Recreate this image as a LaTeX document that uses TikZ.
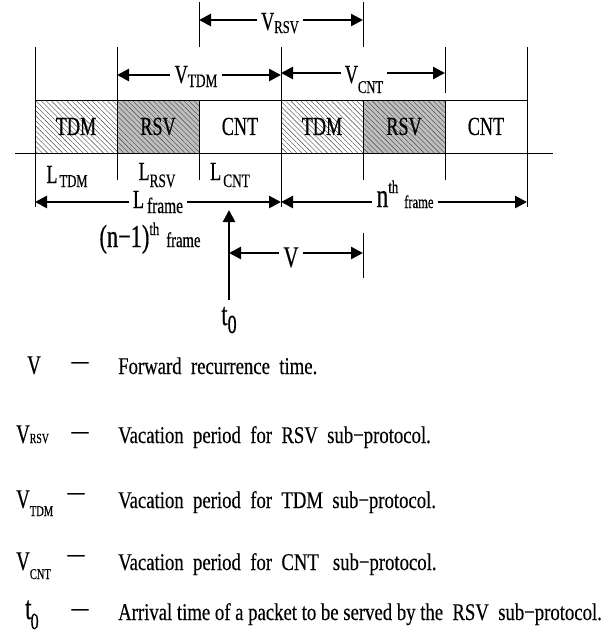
\documentclass[tikz,border=0pt]{standalone}
\usepackage{fontspec}
\setmainfont{Liberation Serif}
\newfontfamily\dgf{Liberation Serif}[FakeStretch=0.7,FakeBold=0.5]
\newfontfamily\lgf{Liberation Serif}[FakeStretch=0.78,FakeBold=0.3]
\usetikzlibrary{arrows.meta,patterns.meta}
\newcommand{\fs}[1]{\fontsize{#1}{#1}\selectfont}
\tikzset{
  thinln/.style={line width=0.8pt},
  dimarr/.style={line width=2.6pt,-{Triangle[length=12pt,width=12pt]}},
  lbl/.style={inner xsep=4pt,inner ysep=1pt,font=\dgf\fs{26},anchor=base},
  slot/.style={draw,thinln,minimum width=82pt,minimum height=53pt,inner sep=0pt,font=\dgf\fs{26}},
  hatch/.style={pattern={Lines[angle=-45,distance=3.6pt,line width=0.4pt]},pattern color=black!75},
  grayhatch/.style={preaction={fill=black!25},hatch},
  legsym/.style={inner sep=0pt,font=\dgf\fs{27},anchor=base west},
  legtxt/.style={inner sep=0pt,font=\lgf\fs{24},anchor=base west},
  legdash/.style={inner sep=0pt,font=\lgf\fs{22}},
}
\begin{document}
\begin{tikzpicture}[x=1pt,y=-1pt]
\useasboundingbox (0,0) rectangle (613,635);
% frame slots
\node[slot,hatch]     (s1) at (76,126.5)  {TDM};
\node[slot,grayhatch] (s2) at (158,126.5) {RSV};
\node[slot]           (s3) at (240,126.5) {CNT};
\node[slot,hatch]     (s4) at (322,126.5) {TDM};
\node[slot,grayhatch] (s5) at (404,126.5) {RSV};
\node[slot]           (s6) at (486,126.5) {CNT};
% time axis
\coordinate (axL) at (15,153); \coordinate (axR) at (553,153);
\draw[thinln] (axL) -- (axR);
% ticks above
\coordinate (a35t) at (35,47);   \coordinate (a35b) at (35,100);
\coordinate (a117t) at (117,47); \coordinate (a117b) at (117,100);
\coordinate (a199t) at (199,2);  \coordinate (a199b) at (199,47);
\coordinate (a281t) at (281,47); \coordinate (a281b) at (281,100);
\coordinate (a363t) at (363,2);  \coordinate (a363b) at (363,47);
\coordinate (a445t) at (445,47); \coordinate (a445b) at (445,93);
\coordinate (a527t) at (527,47); \coordinate (a527b) at (527,100);
\foreach \n in {35,117,199,281,363,445,527} \draw[thinln] (a\n t) -- (a\n b);
% ticks below
\coordinate (b35t) at (35,153);   \coordinate (b35b) at (35,207);
\coordinate (b117t) at (117,153); \coordinate (b117b) at (117,180);
\coordinate (b199t) at (199,153); \coordinate (b199b) at (199,180);
\coordinate (b281t) at (281,153); \coordinate (b281b) at (281,207);
\coordinate (b363t) at (363,153); \coordinate (b363b) at (363,180);
\coordinate (b445t) at (445,153); \coordinate (b445b) at (445,180);
\coordinate (b527t) at (527,153); \coordinate (b527b) at (527,207);
\foreach \n in {35,117,199,281,363,445,527} \draw[thinln] (b\n t) -- (b\n b);
% V_RSV
\coordinate (rsvL) at (199,20); \coordinate (rsvR) at (363,20);
\node[lbl] (vrsv) at (280,30) {V\raisebox{-3pt}{\fs{18}RSV}};
\draw[dimarr] (vrsv.west |- rsvL) -- (rsvL);
\draw[dimarr] (vrsv.east |- rsvR) -- (rsvR);
% V_TDM
\coordinate (tdmL) at (117,75); \coordinate (tdmR) at (281,75);
\node[lbl] (vtdm) at (196,83) {V\raisebox{-4pt}{\fs{19}TDM}};
\draw[dimarr] (vtdm.west |- tdmL) -- (tdmL);
\draw[dimarr] (vtdm.east |- tdmR) -- (tdmR);
% V_CNT
\coordinate (cntL) at (281,73); \coordinate (cntR) at (445,73);
\node[lbl] (vcnt) at (364,83) {V\raisebox{-10pt}{\fs{18}CNT}};
\draw[dimarr] (vcnt.west |- cntL) -- (cntL);
\draw[dimarr] (vcnt.east |- cntR) -- (cntR);
% L labels
\node[lbl] (ltdm) at (67,183)  {L\hspace{2pt}\raisebox{-4pt}{\fs{18}TDM}};
\node[lbl] (lrsv) at (157,180) {L\raisebox{-7pt}{\fs{19}RSV}};
\node[lbl] (lcnt) at (230,180) {L\hspace{2pt}\raisebox{-7pt}{\fs{19}CNT}};
% L_frame
\coordinate (lfL) at (35,202); \coordinate (lfR) at (281,202);
\node[lbl] (lfr) at (158,208) {L\hspace{3pt}\raisebox{-5pt}{\fs{22}frame}};
\draw[dimarr] (lfr.west |- lfL) -- (lfL);
\draw[dimarr] (lfr.east |- lfR) -- (lfR);
% (n-1)th frame
\node[lbl] (nm1) at (150,247) {\fs{32}(n−1)\raisebox{12pt}{\fs{18}th}\hspace{7pt}{\fs{21}frame}};
% nth frame
\coordinate (nfL) at (281,202); \coordinate (nfR) at (527,202);
\node[lbl] (nth) at (405,207) {\fs{34}n\raisebox{14pt}{\fs{18}th}\hspace{6pt}\raisebox{-1pt}{\fs{18}frame}};
\draw[dimarr] (nth.west |- nfL) -- (nfL);
\draw[dimarr] (nth.east |- nfR) -- (nfR);
% t0 arrow
\coordinate (t0b) at (229,300); \coordinate (t0t) at (229,210);
\draw[dimarr] (t0b) -- (t0t);
\node[lbl,inner xsep=0pt] (t0) at (229,325) {\fs{32}t\raisebox{-8pt}{\fs{26}0}};
% V arrow
\coordinate (vL) at (229,253); \coordinate (vR) at (363,253);
\coordinate (vtt) at (363,233); \coordinate (vtb) at (363,278);
\draw[thinln] (vtt) -- (vtb);
\node[lbl,font=\dgf\fs{30}] (vv) at (291,267) {V};
\draw[dimarr] (vv.west |- vL) -- (vL);
\draw[dimarr] (vv.east |- vR) -- (vR);
% legend
\node[legsym] (k1) at (27,374) {V};
\node[legdash] (d1) at (80,365) {—};
\node[legtxt] (e1) at (118,374) {Forward\ \ recurrence\ \ time.};
\node[legsym] (k2) at (16,443) {V\fs{14}RSV};
\node[legdash] (d2) at (80,435) {—};
\node[legtxt] (e2) at (118,443) {Vacation\ \ period\ \ for\ \ RSV\ \ sub−protocol.};
\node[legsym] (k3) at (16,508) {V\raisebox{-8pt}{\fs{15}TDM}};
\node[legdash] (d3) at (76,496) {—};
\node[legtxt] (e3) at (118,508) {Vacation\ \ period\ \ for\ \ TDM\ \ sub−protocol.};
\node[legsym] (k4) at (16,570) {V\raisebox{-9pt}{\fs{15}CNT}};
\node[legdash] (d4) at (76,558) {—};
\node[legtxt] (e4) at (118,570) {Vacation\ \ period\ \ for\ \ CNT\ \ \ sub−protocol.};
\node[legsym] (k5) at (25,619) {\fs{33}t\hspace{-1pt}\raisebox{-10pt}{\fs{23}0}};
\node[legdash] (d5) at (80,612) {—};
\node[legtxt] (e5) at (118,620) {Arrival time of a packet to be served by the\ \ RSV\ \ sub−protocol.};
\end{tikzpicture}
\end{document}
